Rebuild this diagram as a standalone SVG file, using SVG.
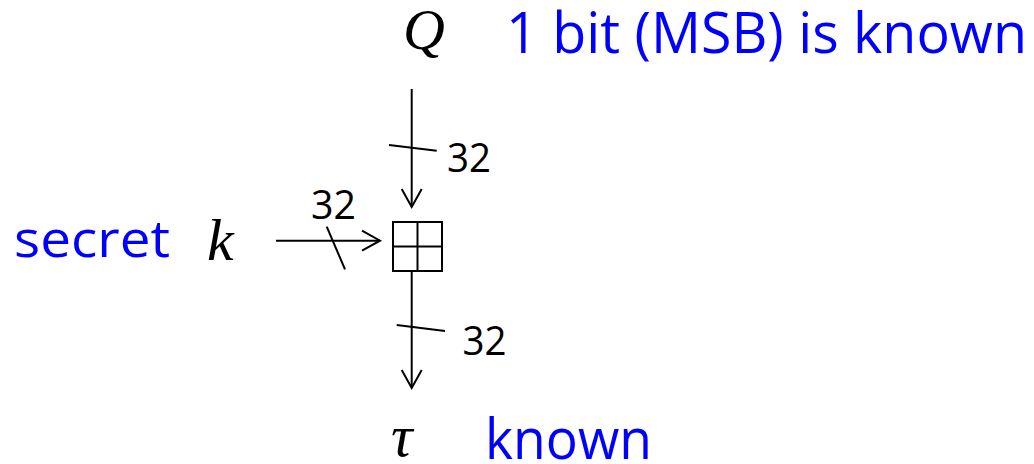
<svg xmlns="http://www.w3.org/2000/svg" width="1034" height="464" viewBox="0 0 1034 464">
  <style>
    .math { font-family: "Liberation Serif", "Times New Roman", serif; font-style: italic; fill: #000; }
    .note { font-family: "Open Sans", "Liberation Sans", Arial, sans-serif; fill: #0000FF; }
    .width { font-family: "Open Sans", "Liberation Sans", Arial, sans-serif; font-size: 40px; fill: #000; }
    .wire { stroke: #000; stroke-width: 2; fill: none; }
    .box { stroke: #000; stroke-width: 2; fill: #fff; }
  </style>
  <defs>
    <marker id="arrow" markerUnits="userSpaceOnUse" markerWidth="24" markerHeight="24" viewBox="-20 -12 24 24" refX="0" refY="0" orient="auto">
      <path d="M-18,-10 L0,0 L-18,10" fill="none" stroke="#000" stroke-width="2"/>
    </marker>
  </defs>
  <rect width="1034" height="464" fill="#fff"/>

  <!-- input Q -->
  <g id="node-Q">
    <text class="math" x="403" y="49" font-size="58">Q</text>
    <text class="note" x="506" y="53" font-size="57" textLength="521" lengthAdjust="spacingAndGlyphs">1 bit (MSB) is known</text>
  </g>

  <!-- secret key k -->
  <g id="node-k">
    <text class="note" x="14" y="257" font-size="52" textLength="156" lengthAdjust="spacingAndGlyphs">secret</text>
    <text class="math" x="207" y="260" font-size="60">k</text>
  </g>

  <!-- modular adder -->
  <g id="node-add">
    <rect class="box" x="393" y="222" width="49" height="49"/>
    <line class="wire" x1="417.5" y1="222" x2="417.5" y2="271"/>
    <line class="wire" x1="393" y1="246.5" x2="442" y2="246.5"/>
  </g>

  <!-- output tau -->
  <g id="node-tau">
    <text class="math" x="391" y="456" font-size="60">τ</text>
    <text class="note" x="485" y="459" font-size="56" textLength="167" lengthAdjust="spacingAndGlyphs">known</text>
  </g>

  <!-- 32-bit buses -->
  <g id="connectors">
    <line class="wire" x1="411.7" y1="89" x2="411.7" y2="207" marker-end="url(#arrow)"/>
    <line class="wire" x1="389" y1="145" x2="436.7" y2="150.7"/>
    <text class="width" x="447" y="171.5" textLength="44" lengthAdjust="spacingAndGlyphs">32</text>

    <line class="wire" x1="276" y1="240.7" x2="380" y2="240.7" marker-end="url(#arrow)"/>
    <line class="wire" x1="326.7" y1="226.7" x2="345" y2="269.3"/>
    <text class="width" x="311" y="219.3" textLength="45" lengthAdjust="spacingAndGlyphs">32</text>

    <line class="wire" x1="411.7" y1="271" x2="411.7" y2="388" marker-end="url(#arrow)"/>
    <line class="wire" x1="396.7" y1="325" x2="445" y2="331"/>
    <text class="width" x="462.5" y="355" textLength="44" lengthAdjust="spacingAndGlyphs">32</text>
  </g>
</svg>
